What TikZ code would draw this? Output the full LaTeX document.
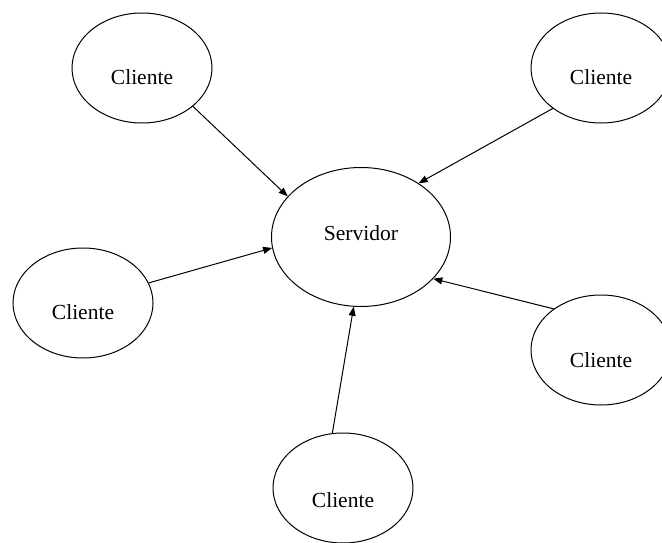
\documentclass[tikz,border=0pt]{standalone}
\usepackage{fontspec}
\setmainfont{Liberation Serif}
\usetikzlibrary{shapes.geometric,arrows.meta}
\tikzset{
  host/.style={ellipse, draw=black, line width=1pt, minimum width=140pt, minimum height=110pt, inner sep=0pt},
  srvhost/.style={host, minimum width=179pt, minimum height=139pt},
  hostname/.style={font=\fontsize{21.5}{24}\selectfont},
  link/.style={draw=black, line width=1pt, -{Triangle[length=9pt,width=7pt]}}
}
\begin{document}
\begin{tikzpicture}[x=1pt,y=-1pt]
  \useasboundingbox (0,0) rectangle (662,543);
  % server in the middle
  \node[srvhost, label={[hostname, yshift=4pt]center:Servidor}] (srv) at (361,237) {};
  % clients around it
  \node[host, label={[hostname, yshift=-9pt]center:Cliente}] (c1) at (142,68) {};
  \node[host, label={[hostname, yshift=-9pt]center:Cliente}] (c2) at (601,68) {};
  \node[host, label={[hostname, yshift=-9pt]center:Cliente}] (c3) at (83,303) {};
  \node[host, label={[hostname, yshift=-10pt]center:Cliente}] (c4) at (601,350) {};
  \node[host, label={[hostname, yshift=-12pt]center:Cliente}] (c5) at (343,488) {};
  % requests from each client to the server
  \draw[link] (c1.-37) -- (srv.151);
  \draw[link] (c2.-140) -- (srv.43);
  \draw[link] (c3.17) -- (srv.-173);
  \draw[link] (c4.139) -- (srv.-30);
  \draw[link] (c5.101) -- (srv.-96);
\end{tikzpicture}
\end{document}
